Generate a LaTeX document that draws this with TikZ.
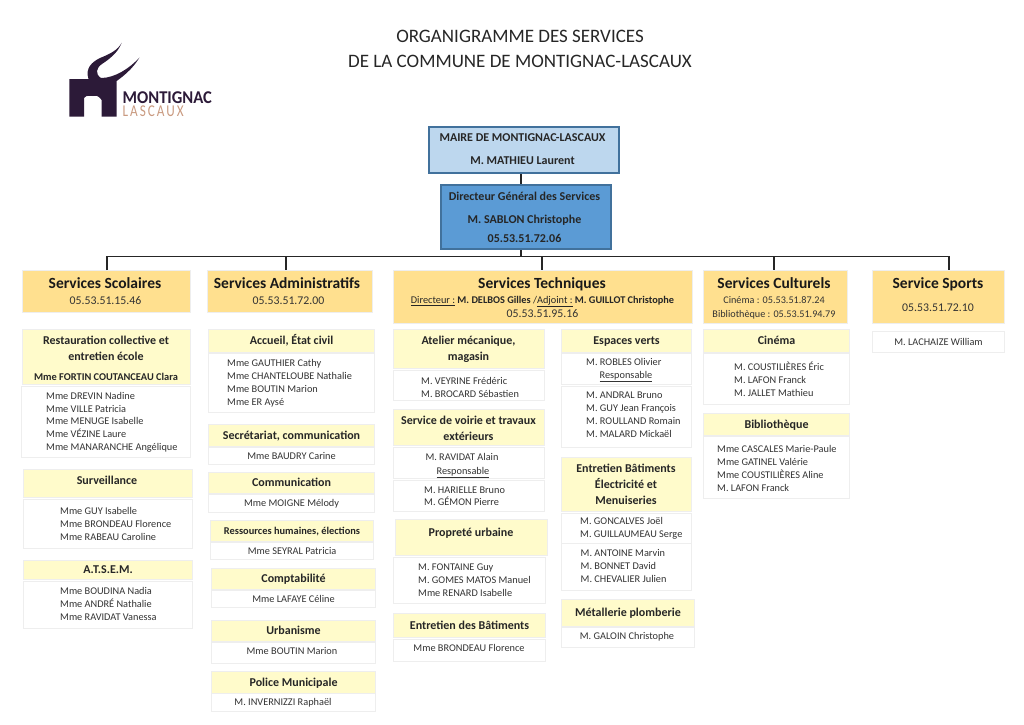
\documentclass[tikz,border=0pt]{standalone}
\usepackage{fontspec}
\setmainfont{Carlito}
\newcommand{\fs}[1]{\fontsize{#1}{#1}\selectfont}

\definecolor{logoink}{HTML}{2C1A38}
\definecolor{logotan}{HTML}{C99A80}
\definecolor{edgegray}{HTML}{EEEEEE}
\definecolor{headyellow}{HTML}{FFFBCB}
\definecolor{servorange}{HTML}{FFE08F}
\definecolor{mayorblue}{HTML}{BDD7EE}
\definecolor{dgsblue}{HTML}{5B9BD5}
\definecolor{frameblue}{HTML}{41719C}

\tikzset{
  dims/.style 2 args={minimum width=#1, minimum height=#2},
  oneline/.style={text height=#1, text depth=0pt},
  panel/.style={anchor=north west, inner sep=0pt, line width=1.1pt, draw=edgegray},
  servbox/.style={panel, fill=servorange},
  headbox/.style={panel, oneline=7.7pt, fill=headyellow, font=\bfseries\fs{12}, text=black!85},
  bodybox/.style={panel, oneline=6.6pt, fill=white, font=\fs{10.3}, text=black!80},
  topbox/.style={anchor=north west, inner sep=0pt, draw=frameblue, line width=2pt},
  servtitle/.style={oneline=10pt, inner sep=0pt, font=\bfseries\fs{15.5}, text=black!90},
  servtel/.style={oneline=7.6pt, inner sep=0pt, font=\fs{11.8}, text=black!80},
  servsmall/.style={oneline=6.6pt, inner sep=0pt, font=\fs{10.2}, text=black!80},
  headtext/.style={oneline=7.7pt, inner sep=0pt, font=\bfseries\fs{12}, text=black!85},
  headstack/.style={inner sep=0pt, align=center, font=\bfseries\fs{12}, text=black!85, execute at begin node={\baselineskip=16pt}},
  names/.style={anchor=west, inner sep=0pt, yshift=-.7pt, align=left, font=\fs{10.3}, text=black!80, execute at begin node={\baselineskip=12.9pt}},
  plain/.style={oneline=6.6pt, inner sep=0pt, font=\fs{10.3}, text=black!80},
  link/.style={draw=black!85, line width=1.2pt}
}

\begin{document}
\begin{tikzpicture}[x=1pt,y=-1pt]
\useasboundingbox (0,0) rectangle (1024,724);

% Title
\node[inner sep=0pt, align=center, font=\fs{19}, text=black!85, execute at begin node={\baselineskip=25pt}] (title) at (520,49)
  {ORGANIGRAMME DES SERVICES\\DE LA COMMUNE DE MONTIGNAC-LASCAUX};

% Logo
\fill[logoink] (69.3,79) -- (88.5,79) .. controls (85,68) and (92,62) .. (100,58)
  .. controls (110,54) and (118,50) .. (121.7,42.7) .. controls (118,53) and (108,60) .. (102,64)
  .. controls (96,68) and (95,74) .. (101,78) .. controls (115,78) and (130,68) .. (139.5,57.5)
  .. controls (132,70) and (122,77) .. (116.7,81) -- (116.7,116.7) -- (101.7,116.7) -- (101.7,100)
  .. controls (98,95) and (95,95) .. (93,96) .. controls (90,97) and (87,94) .. (84,98)
  -- (84,116.7) -- (69.3,116.7) -- cycle;
\node[anchor=south west, inner sep=0pt, oneline=11.7pt, font=\bfseries\fs{18}\addfontfeature{FakeStretch=0.92}, text=logoink] (logotop) at (122.5,103.5) {MONTIGNAC};
\node[anchor=south west, inner sep=0pt, oneline=10.6pt, font=\fs{16.5}\addfontfeature{FakeStretch=0.8,LetterSpace=12}, text=logotan] (logobot) at (122.5,116.7) {LASCAUX};

% Mayor and general director
\node[topbox, fill=mayorblue, dims={190}{46}] (mayor) at (428,126) {};
\node[headtext] (mayorA) at (522.5,138) {MAIRE DE MONTIGNAC-LASCAUX};
\node[headtext] (mayorB) at (522.5,161) {M. MATHIEU Laurent};
\node[topbox, fill=dgsblue, dims={170}{64}] (dgs) at (440,184) {};
\node[headtext] (dgsA) at (524.5,197) {Directeur Général des Services};
\node[headtext] (dgsB) at (524.5,220) {M. SABLON Christophe};
\node[headtext] (dgsC) at (524.5,239) {05.53.51.72.06};

% Services
\node[servbox, dims={168}{42}] (sco) at (22,270) {};
\node[servtitle] (scoA) at (105,283) {Services Scolaires};
\node[servtel] (scoB) at (105.5,301) {05.53.51.15.46};
\node[servbox, dims={165}{42}] (adm) at (207,270) {};
\node[servtitle] (admA) at (287,283) {Services Administratifs};
\node[servtel] (admB) at (288.5,301) {05.53.51.72.00};
\node[servbox, dims={299}{53}] (tec) at (393,270) {};
\node[servtitle] (tecA) at (542,283) {Services Techniques};
\node[servsmall, font=\fs{10.3}, text=black!85] (tecB) at (542.5,300) {\underline{Directeur :} \textbf{M. DELBOS Gilles} /\underline{Adjoint :} \textbf{M. GUILLOT Christophe}};
\node[servtel] (tecC) at (542.5,314) {05.53.51.95.16};
\node[servbox, dims={144}{53}] (cul) at (703,270) {};
\node[servtitle] (culA) at (774,283) {Services Culturels};
\node[servsmall] (culB) at (774,300) {Cinéma : 05.53.51.87.24};
\node[servsmall] (culC) at (774,314) {Bibliothèque : 05.53.51.94.79};
\node[servbox, dims={132}{53}] (spo) at (872,270) {};
\node[servtitle] (spoA) at (938,283) {Service Sports};
\node[servtel] (spoB) at (938,308) {05.53.51.72.10};

% Connectors
\coordinate (busA) at (107,256.5);
\coordinate (busB) at (286,256.5);
\coordinate (busC) at (521,256.5);
\coordinate (busD) at (542,256.5);
\coordinate (busE) at (774,256.5);
\coordinate (busF) at (949,256.5);
\draw[link] (mayor.south -| busC) -- (dgs.north -| busC);
\draw[link] (dgs.south -| busC) -- (busC);
\draw[link] (sco.north -| busA) -- (busA) -- (busF) -- (spo.north -| busF);
\draw[link] (busB) -- (adm.north -| busB);
\draw[link] (busD) -- (tec.north -| busD);
\draw[link] (busE) -- (cul.north -| busE);

% Services Scolaires
\node[headbox, dims={168}{55}] (resto) at (22,329) {};
\node[headstack] (restoA) at (106,348) {Restauration collective et\\entretien école};
\node[headtext, font=\bfseries\fs{10.4}] (restoB) at (106,377) {Mme FORTIN COUTANCEAU Clara};
\node[bodybox, dims={169}{71}] (restoP) at (21,386) {};
\node[names] (restoN) at (46,421.5) {Mme DREVIN Nadine\\Mme VILLE Patricia\\Mme MENUGE Isabelle\\Mme VÉZINE Laure\\Mme MANARANCHE Angélique};
\node[headbox, dims={169}{28}] (surv) at (23,469) {};
\node[headtext] (survA) at (107,481) {Surveillance};
\node[bodybox, dims={169}{49}] (survP) at (23,499) {};
\node[names] (survN) at (60,523.5) {Mme GUY Isabelle\\Mme BRONDEAU Florence\\Mme RABEAU Caroline};
\node[headbox, dims={169}{19}] (atsem) at (23,560) {A.T.S.E.M.};
\node[bodybox, dims={169}{47}] (atsemP) at (23,581) {};
\node[names] (atsemN) at (60,603.5) {Mme BOUDINA Nadia\\Mme ANDRÉ Nathalie\\Mme RAVIDAT Vanessa};

% Services Administratifs
\node[headbox, dims={166}{23}] (accueil) at (208,329) {Accueil, État civil};
\node[bodybox, dims={166}{59}] (accueilP) at (208,353) {};
\node[names] (accueilN) at (227,382.5) {Mme GAUTHIER Cathy\\Mme CHANTELOUBE Nathalie\\Mme BOUTIN Marion\\Mme ER Aysé};
\node[headbox, dims={166}{22}] (secr) at (208,424) {Secrétariat, communication};
\node[bodybox, dims={166}{17}] (secrP) at (208,447) {Mme BAUDRY Carine};
\node[headbox, dims={166}{21}] (comm) at (208,472) {Communication};
\node[bodybox, dims={166}{18}] (commP) at (208,494) {Mme MOIGNE Mélody};
\node[headbox, font=\bfseries\fs{10.4}, dims={163}{21}] (rh) at (210,520) {Ressources humaines, élections};
\node[bodybox, dims={163}{17}] (rhP) at (210,542) {Mme SEYRAL Patricia};
\node[headbox, dims={164}{21}] (compta) at (211,568) {Comptabilité};
\node[bodybox, dims={164}{17}] (comptaP) at (211,590) {Mme LAFAYE Céline};
\node[headbox, dims={164}{21}] (urba) at (211,620) {Urbanisme};
\node[bodybox, dims={164}{21}] (urbaP) at (211,642) {};
\node[plain] (urbaN) at (292,651) {Mme BOUTIN Marion};
\node[headbox, dims={164}{22}] (police) at (211,671) {Police Municipale};
\node[bodybox, dims={164}{18}] (policeP) at (211,693) {};
\node[plain] (policeN) at (283,702) {M. INVERNIZZI Raphaël};

% Services Techniques, left
\node[headbox, dims={151}{39}] (atelier) at (393,329) {};
\node[headstack] (atelierA) at (468.5,349) {Atelier mécanique,\\magasin};
\node[bodybox, dims={151}{30}] (atelierP) at (393,370) {};
\node[names] (atelierN) at (421,386.5) {M. VEYRINE Frédéric\\M. BROCARD Sébastien};
\node[headbox, dims={151}{36}] (voirie) at (393,409) {};
\node[headstack] (voirieA) at (468.5,428.5) {Service de voirie et travaux\\extérieurs};
\node[bodybox, dims={151}{31}] (voirieR) at (393,447) {};
\node[plain] (voirieS) at (462,457) {M. RAVIDAT Alain};
\node[plain] (voirieT) at (463,471) {\underline{Responsable}};
\node[bodybox, dims={151}{31}] (voirieP) at (393,480) {};
\node[names] (voirieN) at (424,495.5) {M. HARIELLE Bruno\\M. GÉMON Pierre};
\node[headbox, dims={152}{36}] (prop) at (395,519) {};
\node[headtext] (propA) at (471,533) {Propreté urbaine};
\node[bodybox, dims={152}{46}] (propP) at (393,557) {};
\node[names] (propN) at (418,579.5) {M. FONTAINE Guy\\M. GOMES MATOS Manuel\\Mme RENARD Isabelle};
\node[headbox, dims={152}{24}] (entr) at (393,613) {Entretien des Bâtiments};
\node[bodybox, dims={152}{22}] (entrP) at (393,639) {};
\node[plain] (entrN) at (469,648) {Mme BRONDEAU Florence};

% Services Techniques, right
\node[headbox, dims={130}{23}] (esp) at (561,329) {Espaces verts};
\node[bodybox, dims={130}{31}] (espR) at (561,353) {};
\node[plain, anchor=west] (espS) at (586,362) {M. ROBLES Olivier};
\node[plain] (espT) at (626,375) {\underline{Responsable}};
\node[bodybox, dims={130}{61}] (espP) at (561,386) {};
\node[names] (espN) at (586,414) {M. ANDRAL Bruno\\M. GUY Jean François\\M. ROULLAND Romain\\M. MALARD Mickaël};
\node[headbox, dims={130}{54}] (bat) at (561,457) {};
\node[headstack] (batA) at (626,484) {Entretien Bâtiments\\Électricité et\\Menuiseries};
\node[bodybox, dims={130}{30}] (batR) at (561,513) {};
\node[names] (batS) at (580,528) {M. GONCALVES Joël\\M. GUILLAUMEAU Serge};
\node[bodybox, dims={130}{47}] (batP) at (561,543) {};
\node[names] (batN) at (580.5,565.5) {M. ANTOINE Marvin\\M. BONNET David\\M. CHEVALIER Julien};
\node[headbox, dims={133}{27}] (metal) at (561,599) {Métallerie plomberie};
\node[bodybox, dims={133}{20}] (metalP) at (561,627) {};
\node[plain] (metalN) at (627,636) {M. GALOIN Christophe};

% Services Culturels and Sports
\node[headbox, dims={146}{23}] (cine) at (703,329) {Cinéma};
\node[bodybox, dims={146}{51}] (cineP) at (703,353) {};
\node[names] (cineN) at (734,378.5) {M. COUSTILIÈRES Éric\\M. LAFON Franck\\M. JALLET Mathieu};
\node[headbox, dims={146}{22}] (bib) at (703,413) {Bibliothèque};
\node[bodybox, dims={146}{62}] (bibP) at (703,436) {};
\node[names] (bibN) at (717,467.5) {Mme CASCALES Marie-Paule\\Mme GATINEL Valérie\\Mme COUSTILIÈRES Aline\\M. LAFON Franck};
\node[bodybox, dims={132}{21}] (lach) at (872,331) {M. LACHAIZE William};

\end{tikzpicture}
\end{document}
